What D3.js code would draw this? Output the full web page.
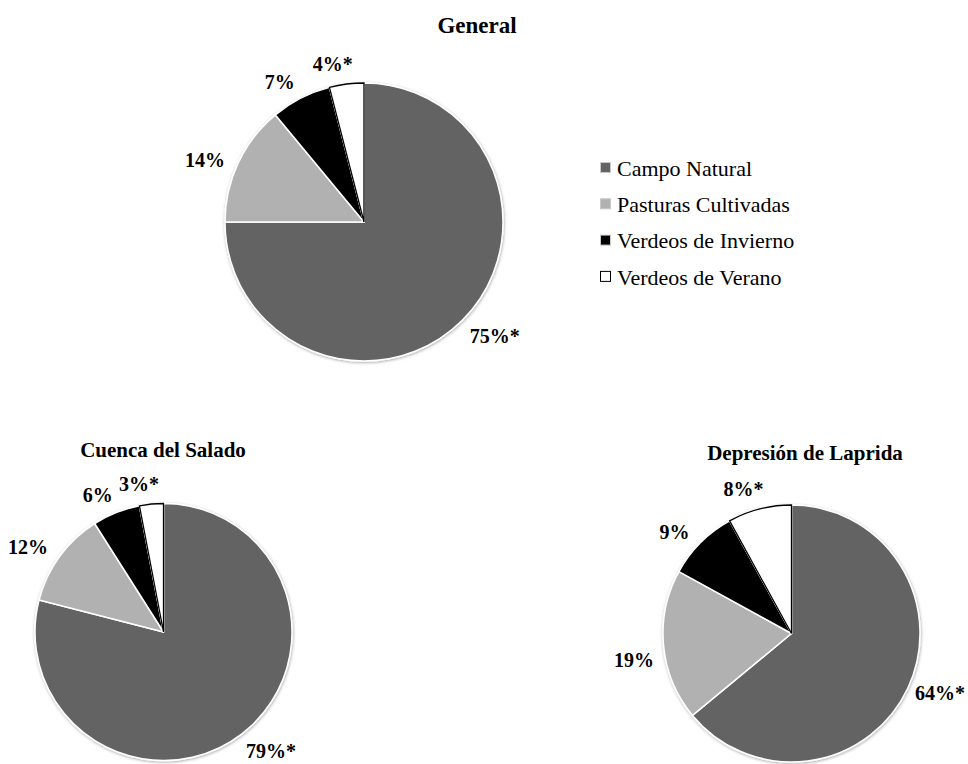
<!DOCTYPE html>
<html>
<head>
<meta charset="utf-8">
<script src="https://cdn.jsdelivr.net/npm/d3@7"></script>
<style>
  html, body { margin: 0; padding: 0; background: #fff; }
  svg { display: block; font-family: "Liberation Serif", "Times New Roman", serif; }
</style>
</head>
<body>
<svg id="chart" width="968" height="764"></svg>
<script>
// Land-use categories shared by the three pies
const categories = ["Campo Natural", "Pasturas Cultivadas", "Verdeos de Invierno", "Verdeos de Verano"];
const colors = ["#636363", "#b1b1b1", "#000000", "#ffffff"];

// Percent share per region, in category order
const generalValues = [75, 14, 7, 4];
const saladoValues = [79, 12, 6, 3];
const lapridaValues = [64, 19, 9, 8];

// Label suffix marking significant differences
const generalMarks = ["*", "", "", "*"];
const saladoMarks = ["*", "", "", "*"];
const lapridaMarks = ["*", "", "", "*"];

const W = 968, H = 764;

const panels = [
  { title: "General", values: generalValues, marks: generalMarks, cx: 364, cy: 222, r: 139, tx: 477, ty: 25, ts: 23 },
  { title: "Cuenca del Salado", values: saladoValues, marks: saladoMarks, cx: 163.5, cy: 632, r: 128.5, tx: 163, ty: 450, ts: 21 },
  { title: "Depresión de Laprida", values: lapridaValues, marks: lapridaMarks, cx: 791.5, cy: 633.5, r: 128.5, tx: 805, ty: 453, ts: 21 }
];

const svg = d3.select("#chart");

// soft shadow around the pies
const defs = svg.append("defs");
const f = defs.append("filter").attr("id", "shadow")
  .attr("x", "-10%").attr("y", "-10%").attr("width", "120%").attr("height", "120%");
f.append("feDropShadow").attr("dx", 0.5).attr("dy", 1).attr("stdDeviation", 1.6)
  .attr("flood-color", "#000").attr("flood-opacity", 0.35);

const color = d3.scaleOrdinal().domain(categories).range(colors);

const pie = d3.pie().sort(null).value(d => d.value);

// labels sit just outside the rim, turned a little counter-clockwise
const labelTurn = -4 * Math.PI / 180;
const labelGap = 10;
const edgePad = 3;

panels.forEach(p => {
  const data = categories.map((c, i) => ({ cat: c, value: p.values[i], mark: p.marks[i] }));
  const arcs = pie(data);
  const arc = d3.arc().innerRadius(0).outerRadius(p.r);

  const g = svg.append("g").attr("transform", `translate(${p.cx},${p.cy})`);

  const slices = g.append("g").attr("filter", "url(#shadow)");
  slices.selectAll("path")
    .data(arcs)
    .join("path")
    .attr("d", arc)
    .attr("fill", d => color(d.data.cat))
    .attr("stroke", "#fff")
    .attr("stroke-width", 1.5)
    .attr("stroke-linejoin", "round");

  // the white slice gets a dark outline
  g.selectAll("path.outline")
    .data(arcs.filter(d => d.data.cat === "Verdeos de Verano"))
    .join("path")
    .attr("class", "outline")
    .attr("d", arc)
    .attr("fill", "none")
    .attr("stroke", "#000")
    .attr("stroke-width", 1.3);

  g.selectAll("text.lbl")
    .data(arcs)
    .join("text")
    .attr("class", "lbl")
    .attr("text-anchor", "middle")
    .attr("dy", "0.35em")
    .attr("font-weight", "bold")
    .attr("font-size", 20)
    .attr("fill", "#000")
    .text(d => d.data.value + "%" + d.data.mark)
    .each(function (d) {
      const bb = this.getBBox();
      const a = (d.startAngle + d.endAngle) / 2 + labelTurn;
      const ux = Math.sin(a), uy = -Math.cos(a);
      const ext = Math.abs(ux) * bb.width / 2 + Math.abs(uy) * 8;
      const dist = p.r + labelGap + ext;
      let x = ux * dist, y = uy * dist;
      // keep the label inside the drawing area
      const maxX = W - edgePad - bb.width / 2 - p.cx;
      const minX = edgePad + bb.width / 2 - p.cx;
      const maxY = H - edgePad - 10 - p.cy;
      x = Math.max(minX, Math.min(maxX, x));
      y = Math.min(maxY, y);
      d3.select(this).attr("x", x).attr("y", y);
    });

  svg.append("text")
    .attr("x", p.tx).attr("y", p.ty)
    .attr("dy", "0.35em")
    .attr("text-anchor", "middle")
    .attr("font-weight", "bold")
    .attr("font-size", p.ts)
    .attr("fill", "#000")
    .text(p.title);
});

// legend
const legend = svg.append("g").attr("transform", "translate(600,168)");
const rowStep = 36.3;
const rows = legend.selectAll("g")
  .data(categories)
  .join("g")
  .attr("transform", (d, i) => `translate(0,${i * rowStep})`);
rows.append("rect")
  .attr("x", 0.5).attr("y", -5.5)
  .attr("width", 10).attr("height", 10)
  .attr("fill", d => color(d))
  .attr("stroke", d => d === "Verdeos de Verano" ? "#000" : "#c8c8c8")
  .attr("stroke-width", 1);
rows.append("text")
  .attr("x", 17).attr("dy", "0.35em")
  .attr("font-size", 22)
  .attr("fill", "#000")
  .text(d => d);
</script>
</body>
</html>
